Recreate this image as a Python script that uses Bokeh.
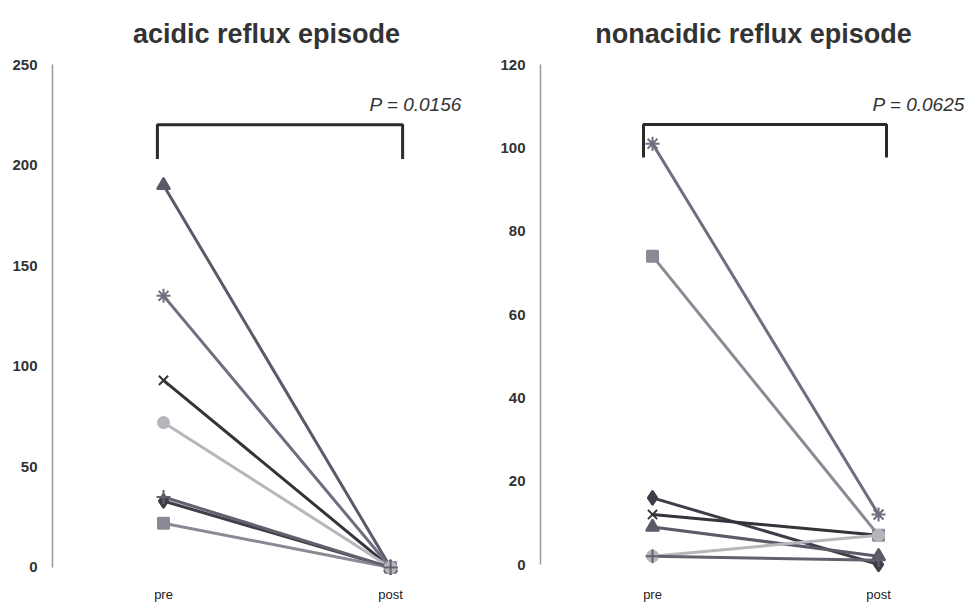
from bokeh.plotting import figure
from bokeh.layouts import row
from bokeh.models import Label, Range1d
from bokeh.embed import file_html
from bokeh.resources import INLINE

# ---------------- data ----------------
groups = ["pre", "post"]
x_pos = [0, 1]
markers = ["diamond", "square", "triangle", "x", "asterisk", "circle", "cross"]

acid_pre = [33, 22, 190, 93, 135, 72, 35]
acid_post = [0, 0, 0, 0, 0, 0, 0]
nonacid_pre = [16, 74, 9, 12, 101, 2, 2]
nonacid_post = [0, 7, 2, 7, 12, 7, 1]

acid_ticks = [0, 50, 100, 150, 200, 250]
nonacid_ticks = [0, 20, 40, 60, 80, 100, 120]

acid_title = "acidic reflux episode"
nonacid_title = "nonacidic reflux episode"
acid_p = "P = 0.0156"
nonacid_p = "P = 0.0625"

# ---------------- styles ----------------
line_colors = ["#3e3e48", "#8a8a94", "#5a5a68", "#33333a", "#6e6e7e", "#b6b6bc", "#62626e"]
marker_sizes = [14, 11, 13, 13, 14, 11, 14]
FONT = "Liberation Sans"


def make_panel(title, pre, post, ticks, ymin, ymax, xstart, xend, border_left,
               border_right, bracket_y, bracket_x, p_text, p_y, p_offset):
    p = figure(width=483, height=607, output_backend="svg", toolbar_location=None,
               x_range=Range1d(xstart, xend), y_range=Range1d(ymin, ymax),
               min_border_left=border_left, min_border_right=border_right,
               min_border_top=64, min_border_bottom=27)
    p.title.text = title
    p.title.align = "center"
    p.title.text_font = FONT
    p.title.text_font_size = "27px"
    p.title.text_font_style = "bold"
    p.title.text_color = "#333333"
    p.title.standoff = 31
    p.outline_line_color = None
    p.grid.grid_line_color = None

    for i in range(len(pre)):
        p.line(x_pos, [pre[i], post[i]], line_color=line_colors[i], line_width=3)
    for i in range(len(pre)):
        p.scatter(x_pos, [pre[i], post[i]], marker=markers[i], size=marker_sizes[i],
                  fill_color=line_colors[i], line_color=line_colors[i], line_width=2)

    # significance bracket
    p.line([bracket_x[0], bracket_x[0], bracket_x[1], bracket_x[1]],
           [bracket_y[0], bracket_y[1], bracket_y[1], bracket_y[0]],
           line_color="#2a2a2a", line_width=3)
    p.add_layout(Label(x=x_pos[1], y=p_y, text=p_text, x_offset=p_offset,
                       text_font=FONT, text_font_size="19px", text_font_style="italic",
                       text_color="#333333", text_baseline="middle", text_align="left"))

    ya = p.yaxis[0]
    ya.ticker = ticks
    ya.bounds = (0, ticks[-1])
    ya.major_tick_line_color = None
    ya.minor_tick_line_color = None
    ya.axis_line_color = "#9a9a9a"
    ya.axis_line_width = 1.5
    ya.major_label_text_font = FONT
    ya.major_label_text_font_size = "15px"
    ya.major_label_text_font_style = "bold"
    ya.major_label_text_color = "#333333"
    ya.major_label_standoff = 9

    xa = p.xaxis[0]
    xa.ticker = x_pos
    xa.major_label_overrides = {x_pos[0]: groups[0], x_pos[1]: groups[1]}
    xa.axis_line_color = None
    xa.major_tick_line_color = None
    xa.minor_tick_line_color = None
    xa.major_label_text_font = FONT
    xa.major_label_text_font_size = "13px"
    xa.major_label_text_color = "#222222"
    xa.major_label_standoff = 0
    return p


p1 = make_panel(acid_title, acid_pre, acid_post, acid_ticks, -6.5, 250, -0.489, 1.396,
                52, 3, (203, 220), (-0.027, 1.053), acid_p, 230, -21)
p2 = make_panel(nonacid_title, nonacid_pre, nonacid_post, nonacid_ticks, -3.84, 120,
                -0.4956, 1.389, 57, 0, (97.7, 105.6), (-0.04, 1.035), nonacid_p, 110.4, -6)

layout = row(p1, p2)
open("out.html", "w").write(file_html(layout, INLINE))
